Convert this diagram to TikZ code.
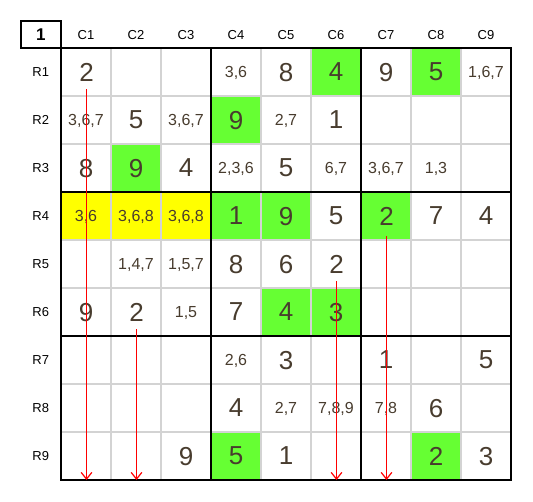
\documentclass[tikz,border=0pt]{standalone}
\usepackage{fontspec}
\setmainfont{Liberation Sans}
\usetikzlibrary{arrows.meta}
\definecolor{digitgray}{HTML}{483C2E}
\definecolor{solvedgreen}{HTML}{66FF33}
\definecolor{pairyellow}{HTML}{FFFF00}
\definecolor{gridgray}{HTML}{D3D3D3}
\tikzset{>={Straight Barb[length=5pt,width=8pt]}}
\tikzset{
  given/.style={text=digitgray, font=\fontsize{19.5}{20}\selectfont, inner sep=6pt, text depth=0pt},
  cand/.style={text=digitgray, font=\fontsize{12}{13}\selectfont, inner sep=2pt, text depth=0pt},
  head/.style={font=\fontsize{9.75}{11}\selectfont, inner sep=1pt},
  cellline/.style={gridgray, line width=1.5pt},
  boxline/.style={black, line width=1.5pt},
  elim/.style={->, red, line width=0.9pt},
}

\begin{document}
\begin{tikzpicture}[x=37.5pt, y=-36pt]
\useasboundingbox (-1.22,-1) rectangle (9.44,9.4375);
% coloured cells
\fill[solvedgreen] (5,0) rectangle (6,1);
\fill[solvedgreen] (7,0) rectangle (8,1);
\fill[solvedgreen] (3,1) rectangle (4,2);
\fill[solvedgreen] (1,2) rectangle (2,3);
\fill[pairyellow] (0,3) rectangle (3,4);
\fill[solvedgreen] (3,3) rectangle (5,4);
\fill[solvedgreen] (6,3) rectangle (7,4);
\fill[solvedgreen] (4,5) rectangle (6,6);
\fill[solvedgreen] (3,8) rectangle (4,9);
\fill[solvedgreen] (7,8) rectangle (8,9);
% thin cell lines
\draw[cellline] (1,0) -- (1,9);
\draw[cellline] (2,0) -- (2,9);
\draw[cellline] (4,0) -- (4,9);
\draw[cellline] (5,0) -- (5,9);
\draw[cellline] (7,0) -- (7,9);
\draw[cellline] (8,0) -- (8,9);
\draw[cellline] (0,1) -- (9,1);
\draw[cellline] (0,2) -- (9,2);
\draw[cellline] (0,4) -- (9,4);
\draw[cellline] (0,5) -- (9,5);
\draw[cellline] (0,7) -- (9,7);
\draw[cellline] (0,8) -- (9,8);
% box lines
\draw[boxline] (0,0) rectangle (9,9);
\draw[boxline] (3,0) -- (3,9);
\draw[boxline] (6,0) -- (6,9);
\draw[boxline] (0,3) -- (9,3);
\draw[boxline] (0,6) -- (9,6);
\draw[boxline] (-0.806,-0.569) rectangle (0,0);
% labels
\node[font=\bfseries\fontsize{12.75}{14}\selectfont] (corner) at (-0.403,-0.285) {1};
\node[head] (c1) at (0.5,-0.28) {C1};
\node[head] (c2) at (1.5,-0.28) {C2};
\node[head] (c3) at (2.5,-0.28) {C3};
\node[head] (c4) at (3.5,-0.28) {C4};
\node[head] (c5) at (4.5,-0.28) {C5};
\node[head] (c6) at (5.5,-0.28) {C6};
\node[head] (c7) at (6.5,-0.28) {C7};
\node[head] (c8) at (7.5,-0.28) {C8};
\node[head] (c9) at (8.5,-0.28) {C9};
\node[head] (r1) at (-0.404,0.5) {R1};
\node[head] (r2) at (-0.404,1.5) {R2};
\node[head] (r3) at (-0.404,2.5) {R3};
\node[head] (r4) at (-0.404,3.5) {R4};
\node[head] (r5) at (-0.404,4.5) {R5};
\node[head] (r6) at (-0.404,5.5) {R6};
\node[head] (r7) at (-0.404,6.5) {R7};
\node[head] (r8) at (-0.404,7.5) {R8};
\node[head] (r9) at (-0.404,8.5) {R9};
% row 1
\node[given] (r1c1) at (0.51,0.5) {2};
\node[cand] (r1c4) at (3.5,0.5) {3,6};
\node[given] (r1c5) at (4.5,0.5) {8};
\node[given] (r1c6) at (5.5,0.5) {4};
\node[given] (r1c7) at (6.5,0.5) {9};
\node[given] (r1c8) at (7.5,0.5) {5};
\node[cand] (r1c9) at (8.5,0.5) {1,6,7};
% row 2
\node[cand] (r2c1) at (0.5,1.5) {3,6,7};
\node[given] (r2c2) at (1.5,1.5) {5};
\node[cand] (r2c3) at (2.5,1.5) {3,6,7};
\node[given] (r2c4) at (3.5,1.5) {9};
\node[cand] (r2c5) at (4.5,1.5) {2,7};
\node[given] (r2c6) at (5.5,1.5) {1};
% row 3
\node[given] (r3c1) at (0.5,2.5) {8};
\node[given] (r3c2) at (1.5,2.5) {9};
\node[given] (r3c3) at (2.5,2.5) {4};
\node[cand] (r3c4) at (3.5,2.5) {2,3,6};
\node[given] (r3c5) at (4.5,2.5) {5};
\node[cand] (r3c6) at (5.5,2.5) {6,7};
\node[cand] (r3c7) at (6.5,2.5) {3,6,7};
\node[cand] (r3c8) at (7.5,2.5) {1,3};
% row 4
\node[cand] (r4c1) at (0.5,3.5) {3,6};
\node[cand] (r4c2) at (1.5,3.5) {3,6,8};
\node[cand] (r4c3) at (2.5,3.5) {3,6,8};
\node[given] (r4c4) at (3.5,3.5) {1};
\node[given] (r4c5) at (4.5,3.5) {9};
\node[given] (r4c6) at (5.5,3.5) {5};
\node[given, inner ysep=8pt] (r4c7) at (6.51,3.5) {2};
\node[given] (r4c8) at (7.5,3.5) {7};
\node[given] (r4c9) at (8.5,3.5) {4};
% row 5
\node[cand] (r5c2) at (1.5,4.5) {1,4,7};
\node[cand] (r5c3) at (2.5,4.5) {1,5,7};
\node[given] (r5c4) at (3.5,4.5) {8};
\node[given] (r5c5) at (4.5,4.5) {6};
\node[given] (r5c6) at (5.51,4.5) {2};
% row 6
\node[given] (r6c1) at (0.5,5.5) {9};
\node[given] (r6c2) at (1.51,5.5) {2};
\node[cand] (r6c3) at (2.5,5.5) {1,5};
\node[given] (r6c4) at (3.5,5.5) {7};
\node[given] (r6c5) at (4.5,5.5) {4};
\node[given] (r6c6) at (5.5,5.5) {3};
% row 7
\node[cand] (r7c4) at (3.5,6.5) {2,6};
\node[given] (r7c5) at (4.5,6.5) {3};
\node[given] (r7c7) at (6.5,6.5) {1};
\node[given] (r7c9) at (8.5,6.5) {5};
% row 8
\node[given] (r8c4) at (3.5,7.5) {4};
\node[cand] (r8c5) at (4.5,7.5) {2,7};
\node[cand] (r8c6) at (5.5,7.5) {7,8,9};
\node[cand] (r8c7) at (6.5,7.5) {7,8};
\node[given] (r8c8) at (7.5,7.5) {6};
% row 9
\node[given] (r9c3) at (2.5,8.5) {9};
\node[given] (r9c4) at (3.5,8.5) {5};
\node[given] (r9c5) at (4.5,8.5) {1};
\node[given] (r9c8) at (7.5,8.5) {2};
\node[given] (r9c9) at (8.5,8.5) {3};
% eliminations
\coordinate (end1) at (0.51,9);
\coordinate (end2) at (1.51,9);
\coordinate (end6) at (5.51,9);
\coordinate (end7) at (6.51,9);
\draw[elim] (r1c1) -- (end1);
\draw[elim] (r6c2) -- (end2);
\draw[elim] (r5c6) -- (end6);
\draw[elim] (r4c7) -- (end7);
\end{tikzpicture}
\end{document}
